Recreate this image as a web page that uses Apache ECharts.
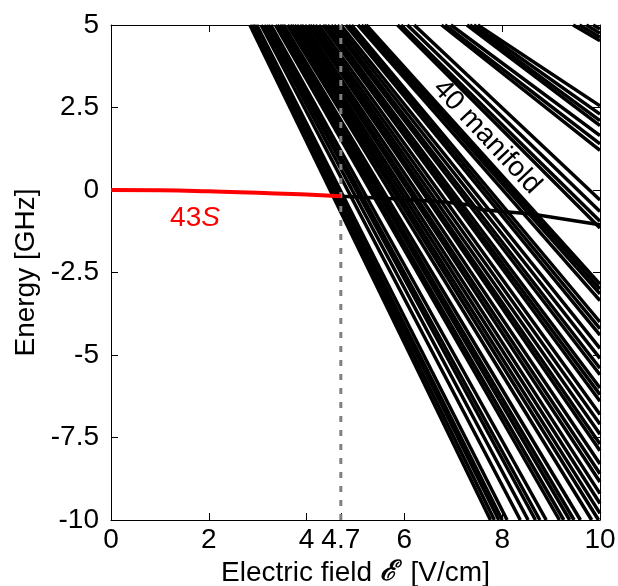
<!DOCTYPE html>
<html>
<head>
<meta charset="utf-8">
<script src="https://cdn.jsdelivr.net/npm/echarts@6/dist/echarts.min.js"></script>
<style>
  html, body { margin: 0; padding: 0; background: #fff; }
  #chart { width: 618px; height: 586px; }
</style>
</head>
<body>
<div id="chart"></div>
<script>
// Axis ticks
const fieldTicks = [0, 2, 4, 4.7, 6, 8, 10];
const energyMin = -10, energyMax = 5, energyStep = 2.5;

// 43S level below the crossing field (V/cm, GHz)
const s43Field  = [0, 1, 2, 3, 4, 4.7];
const s43Energy = [0, -0.01, -0.04, -0.08, -0.14, -0.19];

// 43S character continuing through the 40 manifold above the crossing
const s43HighField  = [4.7, 6.0, 6.8, 7.3, 7.6, 8.6, 10];
const s43HighEnergy = [-0.19, -0.28, -0.36, -0.45, -0.60, -0.73, -1.05];

// Crossing field
const crossField = 4.7;

// 40 manifold Stark levels: field where each level enters the window at +5 GHz,
// and the point where it leaves the window (bottom edge or right edge)
const levelStartField = [
  2.84, 2.88, 2.91, 2.94, 2.98, 3.07, 3.13, 3.18, 3.22, 3.27, 3.36, 3.40, 3.45, 3.49,
  3.53, 3.61, 3.66,
  3.70, 3.75, 3.80, 3.86, 3.90, 3.96, 4.03, 4.07, 4.12, 4.18, 4.25, 4.33, 4.37, 4.43,
  4.50, 4.56, 4.63, 4.70, 4.80, 4.86, 4.92, 5.05, 5.12, 5.18, 5.22,
  5.86, 5.93, 6.06, 6.20, 6.76, 6.83, 6.95, 7.28, 7.34, 7.42, 7.50,
  9.45, 9.58, 9.72, 9.86
];
const levelEndField = [
  7.76, 7.84, 7.93, 8.00, 8.10, 8.37, 8.53, 8.68, 8.77, 8.90, 9.17, 9.26, 9.38, 9.47,
  9.60, 9.83, 9.97,
  10, 10, 10, 10, 10, 10, 10, 10, 10, 10, 10, 10, 10, 10,
  10, 10, 10, 10, 10, 10, 10, 10, 10, 10, 10,
  10, 10, 10, 10, 10, 10, 10, 10, 10, 10, 10,
  10, 10, 10, 10
];
const levelEndEnergy = [
  -10, -10, -10, -10, -10, -10, -10, -10, -10, -10, -10, -10, -10, -10,
  -10, -10, -10,
  -9.8, -9.5, -9.2, -8.85, -8.6, -8.3, -7.9, -7.7, -7.4, -7.1, -6.8, -6.4, -6.2, -6.0,
  -5.6, -5.4, -5.1, -4.8, -4.4, -4.2, -4.0, -3.35, -3.15, -3.0, -2.85,
  -1.15, -0.95, -0.65, -0.3, 1.2, 1.4, 1.65, 1.95, 2.1, 2.3, 2.55,
  4.52, 4.63, 4.75, 4.88
];

const FONT = '"Liberation Sans", Arial, sans-serif';
const FS = 28;

const chart = echarts.init(document.getElementById('chart'), null, { renderer: 'canvas' });

const series = [];
for (let i = 0; i < levelStartField.length; i++) {
  series.push({
    type: 'line',
    data: [[levelStartField[i], energyMax], [levelEndField[i], levelEndEnergy[i]]],
    showSymbol: false,
    silent: true,
    lineStyle: { color: '#000', width: 3.5 },
    z: 2
  });
}
series.push({
  type: 'line',
  data: s43HighField.map((x, i) => [x, s43HighEnergy[i]]),
  showSymbol: false,
  silent: true,
  lineStyle: { color: '#000', width: 3.5 },
  z: 3
});
series.push({
  type: 'line',
  data: [[crossField, energyMin], [crossField, energyMax]],
  showSymbol: false,
  silent: true,
  lineStyle: { color: '#808080', width: 3, type: [6, 8] },
  z: 4
});
series.push({
  type: 'line',
  data: s43Field.map((x, i) => [x, s43Energy[i]]),
  showSymbol: false,
  silent: true,
  smooth: true,
  lineStyle: { color: '#ff0000', width: 4 },
  z: 5
});

const axisLineStyle = { onZero: false, lineStyle: { color: '#000', width: 1 } };

chart.setOption({
  animation: false,
  backgroundColor: '#fff',
  grid: { left: 111, right: 18, top: 25, bottom: 66, containLabel: false, outerBoundsMode: 'none' },
  xAxis: [
    {
      type: 'value', min: 0, max: 10, interval: 2,
      axisLine: axisLineStyle,
      splitLine: { show: false },
      axisTick: { inside: true, length: 7, customValues: fieldTicks, lineStyle: { color: '#000' } },
      axisLabel: {
        customValues: fieldTicks, color: '#000', fontSize: FS, fontFamily: FONT, margin: 6,
        formatter: v => String(v)
      },
      name: 'Electric field {e|ℰ} [V/cm]',
      nameLocation: 'middle',
      nameGap: 36,
      nameTextStyle: {
        color: '#000', fontSize: FS, fontFamily: FONT,
        rich: { e: { fontSize: FS, fontStyle: 'italic', fontWeight: 'bold', fontFamily: 'DejaVu Serif, serif', color: '#000', padding: [0, 6, 0, 0] } }
      }
    },
    {
      type: 'value', min: 0, max: 10, interval: 2, position: 'top',
      axisLine: axisLineStyle,
      splitLine: { show: false },
      axisTick: { inside: true, length: 7, customValues: fieldTicks, lineStyle: { color: '#000' } },
      axisLabel: { show: false }
    }
  ],
  yAxis: [
    {
      type: 'value', min: energyMin, max: energyMax, interval: energyStep,
      axisLine: axisLineStyle,
      splitLine: { show: false },
      axisTick: { inside: true, length: 7, lineStyle: { color: '#000' } },
      axisLabel: { color: '#000', fontSize: FS, fontFamily: FONT, margin: 12 },
      name: 'Energy [GHz]',
      nameLocation: 'middle',
      nameGap: 70,
      nameTextStyle: { color: '#000', fontSize: FS, fontFamily: FONT }
    },
    {
      type: 'value', min: energyMin, max: energyMax, interval: energyStep, position: 'right',
      axisLine: axisLineStyle,
      splitLine: { show: false },
      axisTick: { inside: true, length: 7, lineStyle: { color: '#000' } },
      axisLabel: { show: false }
    }
  ],
  graphic: [
    {
      type: 'text',
      x: 195, y: 218,
      style: {
        text: '43{s|S}',
        fill: '#ff0000',
        font: FS + 'px ' + FONT,
        align: 'center', verticalAlign: 'middle',
        rich: { s: { fontStyle: 'italic', fontSize: FS, fontFamily: FONT, fill: '#ff0000' } }
      },
      z: 10
    },
    {
      type: 'text',
      x: 487, y: 137,
      rotation: -47 * Math.PI / 180,
      style: {
        text: '40 manifold',
        fill: '#000',
        font: '28px ' + FONT,
        align: 'center', verticalAlign: 'middle'
      },
      z: 10
    }
  ],
  series: series
});
</script>
</body>
</html>
